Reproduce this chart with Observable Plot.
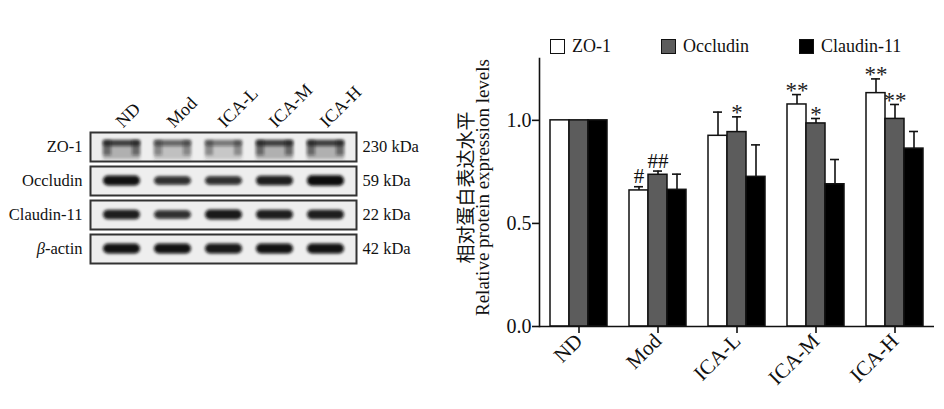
<!DOCTYPE html>
<html>
<head>
<meta charset="utf-8">
<script src="https://cdn.jsdelivr.net/npm/d3@7"></script>
<script src="https://cdn.jsdelivr.net/npm/@observablehq/plot@0.6"></script>
<style>
  html, body { margin: 0; padding: 0; background: #fff; }
  #fig { position: relative; width: 944px; height: 409px; overflow: hidden; font-family: "Liberation Serif", "Noto Sans CJK SC", serif; }
  #blot, #chart { position: absolute; top: 0; }
  #blot { left: 0; }
  #chart { left: 440px; }
  #legend { position: absolute; top: 36px; left: 550px; width: 394px; display: flex; white-space: nowrap; font-size: 18px; color: #111; }
  #legend .item { display: flex; align-items: center; margin-right: 50px; }
  #legend .sw { width: 13px; height: 13px; border: 1.5px solid #111; margin-right: 7px; }
</style>
</head>
<body>
<div id="fig">
  <div id="blot"></div>
  <div id="chart"></div>
  <div id="legend"></div>
</div>
<script>
// ---- Western blot (left panel) ----
const lanes = ["ND", "Mod", "ICA-L", "ICA-M", "ICA-H"];
const proteins = ["ZO-1", "Occludin", "Claudin-11", "β-actin"];
const weights = ["230 kDa", "59 kDa", "22 kDa", "42 kDa"];
const zo1Blot = [0.95, 0.7, 0.6, 0.95, 0.95];
const occludinBlot = [0.95, 0.7, 0.7, 0.85, 1.0];
const claudinBlot = [0.85, 0.7, 0.9, 0.85, 0.85];
const actinBlot = [0.95, 0.95, 0.9, 0.95, 0.95];

// ---- Bar chart (right panel) ----
const groups = ["ND", "Mod", "ICA-L", "ICA-M", "ICA-H"];
const series = ["ZO-1", "Occludin", "Claudin-11"];
const seriesColors = ["#ffffff", "#5c5c5c", "#000000"];
const zo1Mean = [1.0, 0.66, 0.925, 1.077, 1.132];
const zo1Err = [0, 0.018, 0.115, 0.048, 0.069];
const occludinMean = [1.0, 0.736, 0.943, 0.985, 1.007];
const occludinErr = [0, 0.018, 0.074, 0.024, 0.07];
const claudinMean = [1.0, 0.663, 0.726, 0.69, 0.863];
const claudinErr = [0, 0.076, 0.155, 0.12, 0.083];
const zo1Sig = ["", "#", "", "**", "**"];
const occludinSig = ["", "##", "*", "*", "**"];
const claudinSig = ["", "", "", "", ""];
const yTicks = [0, 0.5, 1.0];
const yTitle = "相对蛋白表达水平\nRelative protein expression levels";

// build blot table
const blotSets = [zo1Blot, occludinBlot, claudinBlot, actinBlot];
const blotRows = [];
proteins.forEach((p, j) => lanes.forEach((l, i) => blotRows.push({protein: p, lane: l, v: blotSets[j][i]})));
const zoRows = blotRows.filter(d => d.protein === "ZO-1");
const thinRows = blotRows.filter(d => d.protein !== "ZO-1");

const font = "Liberation Serif, Noto Sans CJK SC, serif";

const blot = Plot.plot({
  width: 440, height: 409,
  marginLeft: 90, marginRight: 84, marginTop: 131, marginBottom: 145,
  style: {fontFamily: font, fontSize: "16.5px", color: "#111", background: "transparent"},
  x: {domain: lanes, paddingInner: 0.28, paddingOuter: 0.22, axis: null},
  fy: {domain: proteins, paddingInner: 0.16, paddingOuter: 0, axis: null},
  y: {domain: [0, 1], axis: null},
  marks: [
    Plot.frame({fill: "#eeeeee", stroke: "#333", strokeWidth: 2}),
    // ZO-1 smear: faint body, dark top edge, darker lane edges
    Plot.barY(zoRows, {x: "lane", fy: "protein", y1: 0.06, y2: 0.72, fill: "#333", fillOpacity: d => 0.35 * d.v}),
    Plot.barY(zoRows, {x: "lane", fy: "protein", y1: 0.52, y2: 0.72, fill: "#111", fillOpacity: d => 0.75 * d.v, rx: 3}),
    Plot.barY(zoRows, {x: "lane", fy: "protein", y1: 0.2, y2: 0.72, fill: "#111", fillOpacity: d => 0.5 * d.v, insetRight: 29}),
    Plot.barY(zoRows, {x: "lane", fy: "protein", y1: 0.2, y2: 0.72, fill: "#111", fillOpacity: d => 0.5 * d.v, insetLeft: 29}),
    // sharp bands
    Plot.barY(thinRows, {x: "lane", fy: "protein", y1: d => 0.5 - (0.08 + 0.1 * d.v), y2: d => 0.5 + (0.08 + 0.1 * d.v), fill: "#0a0a0a", fillOpacity: d => 0.5 + 0.5 * d.v, rx: 5}),
    // row labels and weights
    Plot.text(proteins, {fy: d => d, text: d => d, frameAnchor: "left", dx: -8, textAnchor: "end", fontSize: 16.5}),
    Plot.text(proteins, {fy: d => d, text: (d, i) => weights[i], frameAnchor: "right", dx: 6, textAnchor: "start", fontSize: 16.5}),
    // lane labels
    Plot.text(lanes, {x: d => d, fy: () => proteins[0], text: d => d, frameAnchor: "top", rotate: -45, textAnchor: "start", dx: -8, dy: -13, fontSize: 18})
  ]
});
document.getElementById("blot").appendChild(blot);
// soften bands with a blur filter
const bs = d3.select(blot);
bs.insert("defs", ":first-child").append("filter").attr("id", "bandBlur")
  .attr("x", "-30%").attr("y", "-80%").attr("width", "160%").attr("height", "260%")
  .append("feGaussianBlur").attr("stdDeviation", 1.4);
bs.selectAll('g[aria-label="bar"]').attr("filter", "url(#bandBlur)");
// italic beta
bs.selectAll("text").each(function() {
  if (this.textContent === "β-actin") {
    const t = d3.select(this);
    t.text(null);
    t.append("tspan").attr("font-style", "italic").text("β");
    t.append("tspan").text("-actin");
  }
});

// bar chart table
const means = [zo1Mean, occludinMean, claudinMean];
const errs = [zo1Err, occludinErr, claudinErr];
const sigs = [zo1Sig, occludinSig, claudinSig];
const rows = [];
series.forEach((s, j) => groups.forEach((g, i) => rows.push({group: g, series: s, mean: means[j][i], err: errs[j][i], sig: sigs[j][i]})));
const errRows = rows.filter(d => d.err > 0);
const hashRows = rows.filter(d => d.sig.startsWith("#"));
const starRows = rows.filter(d => d.sig.startsWith("*"));

const chart = Plot.plot({
  width: 504, height: 409,
  marginLeft: 97, marginRight: 9, marginTop: 58, marginBottom: 83,
  style: {fontFamily: font, color: "#111", background: "transparent"},
  fx: {domain: groups, padding: 0, label: null},
  x: {domain: series, paddingInner: 0, paddingOuter: 0.49, axis: null},
  y: {domain: [0, 1.3], axis: null},
  color: {domain: series, range: seriesColors},
  marks: [
    Plot.ruleX(errRows, {fx: "group", x: "series", y1: "mean", y2: d => d.mean + d.err, stroke: "#111", strokeWidth: 1.6}),
    Plot.tickY(errRows, {fx: "group", x: "series", y: d => d.mean + d.err, insetLeft: 5, insetRight: 5, stroke: "#111", strokeWidth: 1.6}),
    Plot.barY(rows, {fx: "group", x: "series", y: "mean", fill: "series", stroke: "#111", strokeWidth: 1.5}),
    Plot.text(hashRows, {fx: "group", x: "series", y: d => d.mean + d.err, text: "sig", dy: -10, fontSize: 21, fill: "#111"}),
    Plot.text(starRows, {fx: "group", x: "series", y: d => d.mean + d.err, text: "sig", dy: -4, fontSize: 23, fill: "#222"}),
    Plot.ruleY([0], {stroke: "#111", strokeWidth: 1.6}),
    Plot.frame({anchor: "left", facetAnchor: "left", stroke: "#111", strokeWidth: 1.6}),
    Plot.axisY({ticks: yTicks, tickFormat: d3.format(".1f"), tickSize: 7, tickPadding: 1, fontSize: 20, label: null, strokeWidth: 1.6}),
    Plot.axisFx({anchor: "bottom", tickRotate: -45, tickSize: 7, tickPadding: 4, fontSize: 21, label: null, strokeWidth: 1.6}),
    Plot.text([yTitle], {text: d => d, frameAnchor: "left", facetAnchor: "left", textAnchor: "middle", rotate: -90, dx: -64, dy: -5, lineHeight: 0.88, fontSize: 19, fill: "#111"})
  ]
});
document.getElementById("chart").appendChild(chart);

// legend
const legend = d3.select("#legend");
series.forEach((s, i) => {
  const item = legend.append("div").attr("class", "item");
  item.append("div").attr("class", "sw").style("background", seriesColors[i]);
  item.append("span").text(s);
});
</script>
</body>
</html>
